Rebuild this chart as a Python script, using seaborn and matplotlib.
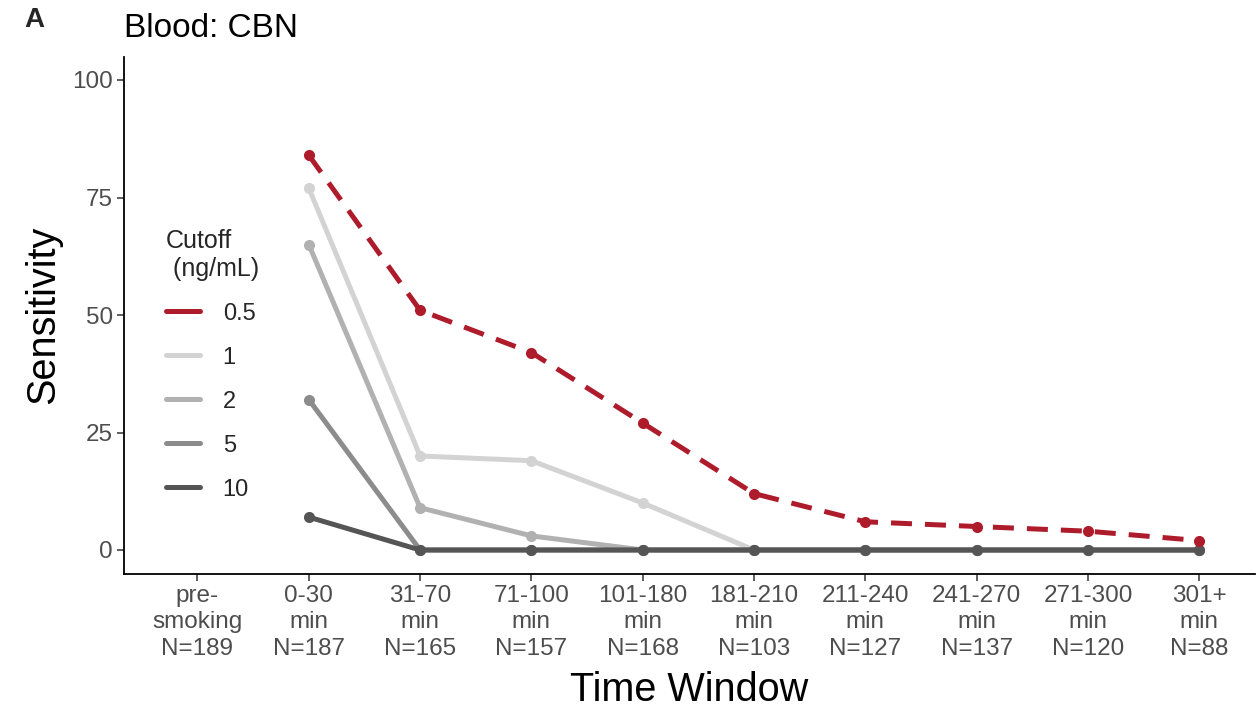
import numpy as np
import pandas as pd
import matplotlib
matplotlib.use("Agg")
import matplotlib.pyplot as plt
from matplotlib.lines import Line2D
import seaborn as sns

# Time windows (x categories) with sample sizes
windows = ["pre-\nsmoking\nN=189", "0-30\nmin\nN=187", "31-70\nmin\nN=165",
           "71-100\nmin\nN=157", "101-180\nmin\nN=168", "181-210\nmin\nN=103",
           "211-240\nmin\nN=127", "241-270\nmin\nN=137", "271-300\nmin\nN=120",
           "301+\nmin\nN=88"]

# Sensitivity (%) per cutoff; pre-smoking has no value
sens_0_5 = [np.nan, 84, 51, 42, 27, 12, 6, 5, 4, 2]
sens_1 = [np.nan, 77, 20, 19, 10, 0, 0, 0, 0, 0]
sens_2 = [np.nan, 65, 9, 3, 0, 0, 0, 0, 0, 0]
sens_5 = [np.nan, 32, 0, 0, 0, 0, 0, 0, 0, 0]
sens_10 = [np.nan, 7, 0, 0, 0, 0, 0, 0, 0, 0]

cutoffs = ["0.5", "1", "2", "5", "10"]
series = {"0.5": sens_0_5, "1": sens_1, "2": sens_2, "5": sens_5, "10": sens_10}
colors = {"0.5": "#AE1C2C", "1": "#D3D3D3", "2": "#B1B1B1",
          "5": "#8C8C8C", "10": "#555555"}

rows = []
for c in cutoffs:
    for i, v in enumerate(series[c]):
        rows.append({"window": i, "sens": v, "cutoff": c})
df = pd.DataFrame(rows).dropna()

sns.set_theme(style="white")
plt.rcParams["font.family"] = ["Liberation Sans", "DejaVu Sans"]

fig = plt.figure(figsize=(12.59, 7.07), dpi=100)
ax = fig.add_axes([124 / 1259, 1 - 573.5 / 707, (1255 - 124) / 1259, (573.5 - 56.5) / 707])

lw = 3.6
draw_order = ["1", "2", "5", "10", "0.5"]
for z, c in enumerate(draw_order):
    sub = df[df["cutoff"] == c]
    sns.lineplot(data=sub, x="window", y="sens", ax=ax, color=colors[c],
                 linewidth=lw, marker="o", markersize=8, markeredgewidth=0,
                 zorder=3 + z, legend=False)
    if c == "0.5":
        ax.lines[-1].set_dashes((4.2, 2.6))

ax.set_xlim(-0.66, 9.5)
ax.set_ylim(-5, 105)
ax.set_xticks(range(len(windows)))
ax.set_xticklabels(windows, linespacing=1.28)
ax.set_yticks([0, 25, 50, 75, 100])
ax.tick_params(axis="both", colors="#333333", labelcolor="#4D4D4D",
               labelsize=17.5, length=5, width=1.1, direction="out",
               bottom=True, left=True)
ax.tick_params(axis="x", pad=3)
ax.tick_params(axis="y", pad=3)
for side in ["top", "right"]:
    ax.spines[side].set_visible(False)
for side in ["left", "bottom"]:
    ax.spines[side].set_color("black")
    ax.spines[side].set_linewidth(1.3)

ax.set_xlabel("Time Window", fontsize=28.5, color="black", labelpad=8)
ax.set_ylabel("Sensitivity", fontsize=28.5, color="black", labelpad=7)
ax.set_title("Blood: CBN", fontsize=24, loc="left", x=0.0, pad=14, color="black")
fig.text(24 / 1259, 1 - 20 / 707, "A", fontsize=20, fontweight="bold",
         va="center", ha="left")

handles = [Line2D([0], [0], color=colors[c], linewidth=lw) for c in cutoffs]
leg = ax.legend(handles, cutoffs, title="Cutoff\n (ng/mL)", loc="upper left",
                bbox_to_anchor=(166 / 1259, 1 - 229 / 707),
                bbox_transform=fig.transFigure, frameon=False, fontsize=17,
                title_fontsize=18, handlelength=1.45, labelspacing=0.93,
                handletextpad=0.95, borderaxespad=0, borderpad=0)
leg._legend_box.align = "left"

fig.savefig("out.png", dpi=100)
